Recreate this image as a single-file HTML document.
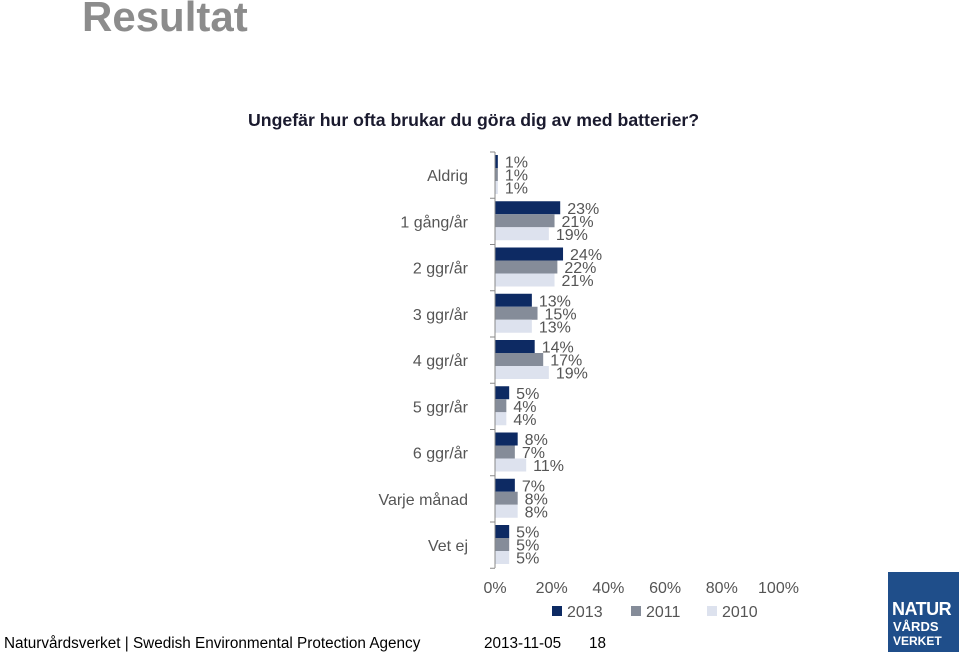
<!DOCTYPE html>
<html><head><meta charset="utf-8"><style>
body{margin:0;width:960px;height:654px;background:#fff;position:relative;overflow:hidden;font-family:"Liberation Sans",sans-serif}
.abs{position:absolute;white-space:nowrap}
</style></head><body>
<div class="abs" style="left:82px;top:-7px;font-size:42px;font-weight:bold;color:#8c8c8c">Resultat</div>
<div class="abs" style="left:248px;top:110px;font-size:17.7px;font-weight:bold;color:#1a1a2e">Ungefär hur ofta brukar du göra dig av med batterier?</div>
<svg id="chart" width="960" height="654" style="position:absolute;left:0;top:0" font-family="Liberation Sans, sans-serif"></svg>
<div class="abs" style="left:4px;top:635px;font-size:15.3px;color:#000">Naturvårdsverket | Swedish Environmental Protection Agency</div>
<div class="abs" style="left:484px;top:635px;font-size:15.3px;color:#000">2013-11-05</div>
<div class="abs" style="left:589px;top:635px;font-size:15.3px;color:#000">18</div>
<div class="abs" style="left:888px;top:572px;width:71px;height:80px;background:#1f4e8a;color:#fff;font-weight:bold">
<div style="position:absolute;left:4px;top:27px;font-size:18px;letter-spacing:-0.5px">NATUR</div>
<div style="position:absolute;left:5px;top:47px;font-size:13px">VÅRDS</div>
<div style="position:absolute;left:5px;top:62px;font-size:12px">VERKET</div>
</div>
<script>
const categories=["Aldrig","1 gång/år","2 ggr/år","3 ggr/år","4 ggr/år","5 ggr/år","6 ggr/år","Varje månad","Vet ej"];
const v2013=[1,23,24,13,14,5,8,7,5];
const v2011=[1,21,22,15,17,4,7,8,5];
const v2010=[1,19,21,13,19,4,11,8,5];
const seriesNames=["2013","2011","2010"];
const ticks=[0,20,40,60,80,100];
const colors=["#0d2a63","#858c99","#dde2ee"];
const svg=document.getElementById('chart');
const NS="http://www.w3.org/2000/svg";
const x0=495,pxPer=2.835,gTop=155,gStep=46.25,bh=13;
const xs=v=>x0+v*pxPer;
function mk(t,a){const e=document.createElementNS(NS,t);for(const k in a)e.setAttribute(k,a[k]);svg.appendChild(e);return e;}
const series=[v2013,v2011,v2010];
categories.forEach((c,i)=>{
  const t=mk('text',{x:468,y:gTop+i*gStep+26,'text-anchor':'end','font-size':16,fill:'#555'});
  t.textContent=c;
  
  
  series.forEach((s,j)=>{
    const y=gTop+i*gStep+j*bh;
    const r=mk('rect',{x:x0,y:y,width:Math.max(s[i]*pxPer,1.5),height:bh,fill:colors[j]});
    
    
    const l=mk('text',{x:xs(s[i])+7,y:y+bh/2+6,'font-size':16,fill:'#555'});
    l.textContent=s[i]+'%';
    
    
  });
});
const ax=mk('line',{x1:x0,y1:152,x2:x0,y2:568,stroke:'#888','stroke-width':1});


for(let i=0;i<=categories.length;i++){
  const y=152+i*gStep;
  mk('line',{x1:x0-5,y1:y,x2:x0,y2:y,stroke:'#888','stroke-width':1});
}
ticks.forEach(t=>{
  const e=mk('text',{x:xs(t),y:593,'text-anchor':'middle','font-size':16,fill:'#555'});
  e.textContent=t+'%';
  
  
});
const legX=[552,631,707];
seriesNames.forEach((n,j)=>{
  const r=mk('rect',{x:legX[j],y:606,width:10,height:10,fill:colors[j]});
  
  
  const t=mk('text',{x:legX[j]+15,y:617,'font-size':16,fill:'#555'});
  t.textContent=n;
  
  
});
</script>
</body></html>
